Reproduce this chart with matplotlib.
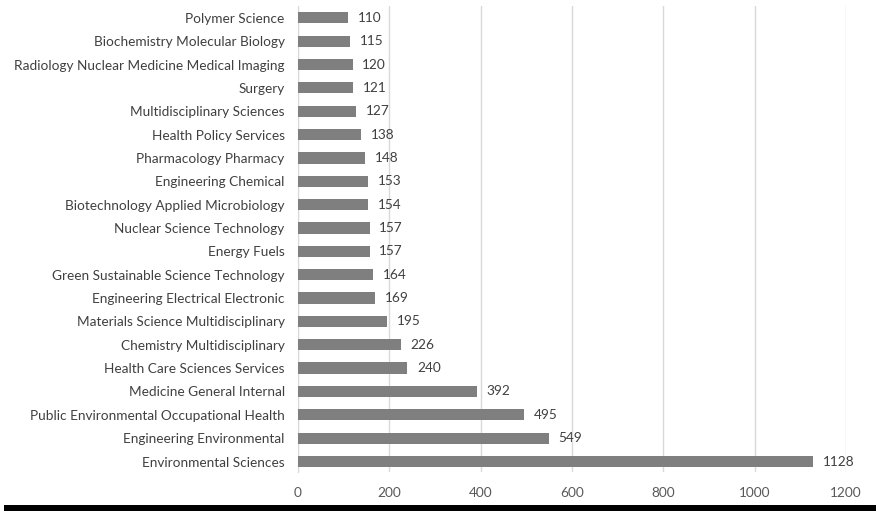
import matplotlib.pyplot as plt
import matplotlib.patches as mpatches

# categories from bottom to top
categories = ["Environmental Sciences", "Engineering Environmental",
              "Public Environmental Occupational Health", "Medicine General Internal",
              "Health Care Sciences Services", "Chemistry Multidisciplinary",
              "Materials Science Multidisciplinary", "Engineering Electrical Electronic",
              "Green Sustainable Science Technology", "Energy Fuels",
              "Nuclear Science Technology", "Biotechnology Applied Microbiology",
              "Engineering Chemical", "Pharmacology Pharmacy", "Health Policy Services",
              "Multidisciplinary Sciences", "Surgery",
              "Radiology Nuclear Medicine Medical Imaging",
              "Biochemistry Molecular Biology", "Polymer Science"]
counts = [1128, 549, 495, 392, 240, 226, 195, 169, 164, 157,
          157, 154, 153, 148, 138, 127, 121, 120, 115, 110]
xticks = [0, 200, 400, 600, 800, 1000, 1200]

plt.rcParams['font.family'] = ['Lato', 'DejaVu Sans']

fig = plt.figure(figsize=(8.76, 5.11), dpi=100)
ax = fig.add_axes([0.340, 0.0763, 0.6258, 0.9117])

pos = list(range(len(categories)))
ax.barh(pos, counts, height=0.48, color='#7f7f7f', zorder=3)
for p, v in zip(pos, counts):
    ax.annotate(str(v), (v, p), xytext=(7, 0), textcoords='offset points',
                va='center', ha='left', fontsize=9.8, color='#404040')

ax.set_xlim(0, 1200)
ax.set_ylim(-0.45, 19.5)
ax.set_xticks(xticks)
ax.set_yticks(pos)
ax.set_yticklabels(categories)
ax.tick_params(axis='x', length=0, pad=11, labelsize=9.8, labelcolor='#595959')
ax.tick_params(axis='y', length=0, pad=9.5, labelsize=9.8, labelcolor='#404040')
ax.grid(axis='x', color='#d9d9d9', linewidth=1, zorder=0)
for s in ['top', 'right', 'bottom']:
    ax.spines[s].set_visible(False)
ax.spines['left'].set_color('#d9d9d9')

# thin black strip along the bottom edge
fig.patches.append(mpatches.Rectangle((4 / 876, 0), 1, 6 / 511, transform=fig.transFigure,
                                      facecolor='black', edgecolor='none'))

fig.savefig('out.png', dpi=100)
